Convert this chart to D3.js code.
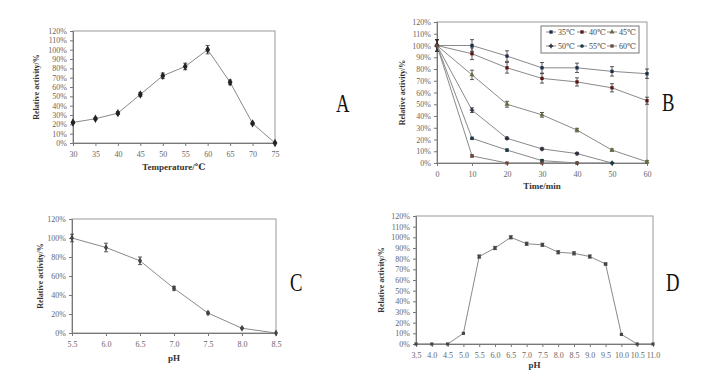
<!DOCTYPE html>
<html>
<head>
<meta charset="utf-8">
<script src="https://cdn.jsdelivr.net/npm/d3@7"></script>
<style>
  body { margin: 0; background: #fff; }
  svg text { font-family: "Liberation Serif", "DejaVu Serif", serif; }
</style>
</head>
<body>
<div id="content"></div>
<script>
// datos
var tempX = [30, 35, 40, 45, 50, 55, 60, 65, 70, 75];
var tempY = [22, 26, 32, 52, 72, 82, 100, 65, 21, 0];
var tempErr = [1, 1, 1.5, 2, 3, 3.5, 4.5, 2.5, 1, 0];

var timeX = [0, 10, 20, 30, 40, 50, 60];
var seriesNames = ["35℃", "40℃", "45℃", "50℃", "55℃", "60℃"];
var s35 = [100, 100, 91, 81, 81, 78, 76];
var s40 = [100, 93, 81, 72, 69, 64, 53];
var s45 = [100, 75, 50, 41, 28, 11, 1];
var s50 = [100, 45, 21, 12, 8, 0, null];
var s55 = [100, 21, 11, 2, 0, 0, null];
var s60 = [100, 6, 0, 0, 0, null, null];
var e35 = [5, 5, 4.5, 4.5, 4, 4, 4];
var e40 = [5, 5, 4.5, 4, 3.5, 3.5, 3];
var e45 = [5, 4, 2.5, 2, 1.5, 1, 1];
var e50 = [5, 2, 1, 1, 1, 0.5, 0];
var e55 = [5, 1, 1, 1, 0, 0, 0];
var e60 = [5, 1, 0, 0, 0, 0, 0];

var phStabX = [5.5, 6.0, 6.5, 7.0, 7.5, 8.0, 8.5];
var phStabY = [100, 90, 76, 47, 21, 5, 0];
var phStabErr = [4, 4.5, 4, 2, 1, 0.5, 0];

var phOptX = [3.5, 4.0, 4.5, 5.0, 5.5, 6.0, 6.5, 7.0, 7.5, 8.0, 8.5, 9.0, 9.5, 10.0, 10.5, 11.0];
var phOptY = [0, 0, 0, 10, 82, 90, 100, 94, 93, 86, 85, 82, 75, 9, 0, 0];
var phOptErr = [0, 0, 0, 0, 1.5, 1.5, 1.5, 1.5, 1.5, 1.5, 1.5, 1.5, 1, 0, 0, 0];

var width = 716;
var height = 387;

var svg = d3.select("#content")
  .append("svg")
  .attr("width", width)
  .attr("height", height);

var lineCol = "#8a8a8a";
var markCol = "#222";

// dibuja un panel
function panel(p) {
  var g = svg.append("g");
  var x = d3.scaleLinear().domain(p.xDom).range([p.left, p.right]);
  var y = d3.scaleLinear().domain([0, 120]).range([p.bottom, p.top]);

  g.append("rect")
    .attr("x", p.left).attr("y", p.top)
    .attr("width", p.right - p.left).attr("height", p.bottom - p.top)
    .attr("fill", "none").attr("stroke", "#999").attr("stroke-width", 1);

  var ya = g.append("g")
    .attr("transform", "translate(" + p.left + ",0)")
    .call(d3.axisLeft(y).tickValues(d3.range(0, 121, p.yStep))
      .tickSize(3).tickPadding(3)
      .tickFormat(function(d) { return d + "%"; }));
  var xa = g.append("g")
    .attr("transform", "translate(0," + p.bottom + ")")
    .call(d3.axisBottom(x).tickValues(p.xTicks)
      .tickSize(3).tickPadding(5)
      .tickFormat(p.xFmt));
  [ya, xa].forEach(function(a) {
    a.select(".domain").attr("stroke", "#777");
    a.selectAll(".tick line").attr("stroke", "#777");
    a.selectAll(".tick text").attr("fill", "#666")
      .style("font-size", "8px");
  });

  g.append("text")
    .attr("x", (p.left + p.right) / 2).attr("y", p.xTitleY)
    .attr("text-anchor", "middle")
    .style("font-size", "9px").style("font-weight", "bold")
    .attr("fill", "#333")
    .text(p.xTitle);
  g.append("text")
    .attr("transform", "translate(" + p.yTitleX + "," + ((p.top + p.bottom) / 2) + ") rotate(-90)")
    .attr("text-anchor", "middle")
    .style("font-size", "8px").style("font-weight", "bold")
    .attr("fill", "#333")
    .text("Relative activity/%");

  g.append("text")
    .attr("transform", "translate(" + p.labelX + "," + p.labelY + ") scale(0.85,1.15)")
    .style("font-size", "22px")
    .attr("fill", "#111")
    .text(p.label);

  p.series.forEach(function(s) {
    var pts = p.xs.map(function(v, i) {
      return { x: v, y: s.ys[i], e: s.err[i] };
    }).filter(function(d) { return d.y !== null; });

    var line = d3.line()
      .x(function(d) { return x(d.x); })
      .y(function(d) { return y(d.y); });
    g.append("path").datum(pts)
      .attr("d", line)
      .attr("fill", "none").attr("stroke", lineCol).attr("stroke-width", 1);

    var eb = g.append("g").selectAll("g")
      .data(pts.filter(function(d) { return d.e > 0; }))
      .enter().append("g").attr("stroke", "#333").attr("stroke-width", 0.8);
    eb.append("line")
      .attr("x1", function(d) { return x(d.x); }).attr("x2", function(d) { return x(d.x); })
      .attr("y1", function(d) { return y(d.y + d.e); }).attr("y2", function(d) { return y(d.y - d.e); });
    eb.append("line")
      .attr("x1", function(d) { return x(d.x) - 2; }).attr("x2", function(d) { return x(d.x) + 2; })
      .attr("y1", function(d) { return y(d.y + d.e); }).attr("y2", function(d) { return y(d.y + d.e); });
    eb.append("line")
      .attr("x1", function(d) { return x(d.x) - 2; }).attr("x2", function(d) { return x(d.x) + 2; })
      .attr("y1", function(d) { return y(d.y - d.e); }).attr("y2", function(d) { return y(d.y - d.e); });

    g.append("g").selectAll("path")
      .data(pts).enter().append("path")
      .attr("transform", function(d) { return "translate(" + x(d.x) + "," + y(d.y) + ")"; })
      .attr("d", d3.symbol().type(s.sym).size(s.size))
      .attr("fill", s.fill).attr("stroke", s.stroke || "none").attr("stroke-width", 0.8);
  });
  return { x: x, y: y };
}

var fmtInt = d3.format("d");
var fmt1 = d3.format(".1f");

panel({
  left: 73, right: 275, top: 31, bottom: 143,
  xDom: [30, 75], xTicks: tempX, xFmt: fmtInt, yStep: 10,
  xTitle: "Temperature/℃", xTitleY: 170, yTitleX: 39,
  label: "A", labelX: 336, labelY: 112,
  xs: tempX,
  series: [{ ys: tempY, err: tempErr, sym: d3.symbolDiamond, size: 20, fill: markCol }]
});

var symList = [d3.symbolSquare, d3.symbolSquare, d3.symbolTriangle, d3.symbolCross, d3.symbolCircle, d3.symbolSquare];
var fillList = ["#1e2c4c", "#5a1414", "#6a6a3a", "#2a2a3a", "#1a3d4d", "#6b4a3a"];
var sData = [s35, s40, s45, s50, s55, s60];
var eData = [e35, e40, e45, e50, e55, e60];

panel({
  left: 437, right: 647, top: 22, bottom: 163,
  xDom: [0, 60], xTicks: timeX, xFmt: fmtInt, yStep: 10,
  xTitle: "Time/min", xTitleY: 189, yTitleX: 405,
  label: "B", labelX: 662, labelY: 111,
  xs: timeX,
  series: sData.map(function(ys, i) {
    return { ys: ys, err: eData[i], sym: symList[i], size: 11, fill: fillList[i] };
  })
});

// leyenda
var leg = svg.append("g");
leg.append("rect")
  .attr("x", 541).attr("y", 26).attr("width", 98).attr("height", 27)
  .attr("fill", "#fff").attr("stroke", "#777").attr("stroke-width", 1);
var colX = [546, 577, 607];
var rowY = [32, 46];
seriesNames.forEach(function(name, i) {
  var cx = colX[i % 3], cy = rowY[Math.floor(i / 3)];
  leg.append("line")
    .attr("x1", cx).attr("x2", cx + 10).attr("y1", cy).attr("y2", cy)
    .attr("stroke", lineCol).attr("stroke-width", 1);
  leg.append("path")
    .attr("transform", "translate(" + (cx + 5) + "," + cy + ")")
    .attr("d", d3.symbol().type(symList[i]).size(11))
    .attr("fill", fillList[i]);
  leg.append("text")
    .attr("x", cx + 12).attr("y", cy + 3)
    .style("font-size", "8px").attr("fill", "#444")
    .text(name);
});

panel({
  left: 72, right: 276, top: 219, bottom: 333,
  xDom: [5.5, 8.5], xTicks: phStabX, xFmt: fmt1, yStep: 20,
  xTitle: "pH", xTitleY: 361, yTitleX: 43,
  label: "C", labelX: 290, labelY: 291,
  xs: phStabX,
  series: [{ ys: phStabY, err: phStabErr, sym: d3.symbolDiamond, size: 14, fill: "#444" }]
});

panel({
  left: 416, right: 653, top: 216, bottom: 344,
  xDom: [3.5, 11], xTicks: phOptX, xFmt: fmt1, yStep: 10,
  xTitle: "pH", xTitleY: 368, yTitleX: 384,
  label: "D", labelX: 666, labelY: 291,
  xs: phOptX,
  series: [{ ys: phOptY, err: phOptErr, sym: d3.symbolSquare, size: 10, fill: "#444" }]
});
</script>
</body>
</html>
